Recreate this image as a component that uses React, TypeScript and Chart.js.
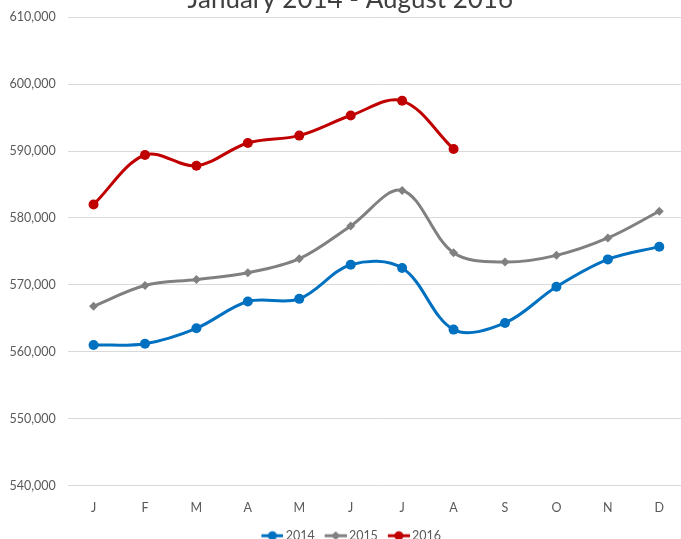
import React, { useEffect, useRef } from "react";
import { Chart, registerables } from "chart.js";

Chart.register(...registerables);

const TITLE = "January 2014 - August 2016";
const MONTHS = ["J", "F", "M", "A", "M", "J", "J", "A", "S", "O", "N", "D"];
const SERIES_NAMES = ["2014", "2015", "2016"];
const VALUES_2014 = [561000, 561200, 563500, 567500, 567900, 573000, 572500, 563300, 564300, 569700, 573800, 575700];
const VALUES_2015 = [566800, 569900, 570800, 571800, 573900, 578800, 584100, 574800, 573400, 574400, 577000, 581000];
const VALUES_2016 = [582000, 589400, 587800, 591200, 592300, 595300, 597500, 590300, null, null, null, null];
const Y_MIN = 540000;
const Y_MAX = 610000;
const Y_STEP = 10000;

const COLORS = ["#0070C0", "#808080", "#C00000"];
const FONT = "Lato, 'Open Sans', sans-serif";

function legendIcon(color: string, diamond: boolean): HTMLCanvasElement {
  const c = document.createElement("canvas");
  c.width = 26;
  c.height = 12;
  const ctx = c.getContext("2d")!;
  ctx.strokeStyle = color;
  ctx.lineWidth = 3;
  ctx.beginPath();
  ctx.moveTo(4, 6);
  ctx.lineTo(26, 6);
  ctx.stroke();
  ctx.fillStyle = color;
  ctx.beginPath();
  if (diamond) {
    ctx.moveTo(15, 1.5);
    ctx.lineTo(19.5, 6);
    ctx.lineTo(15, 10.5);
    ctx.lineTo(10.5, 6);
    ctx.closePath();
  } else {
    ctx.arc(15, 6, 4.5, 0, Math.PI * 2);
  }
  ctx.fill();
  return c;
}

const blockShift = {
  id: "blockShift",
  afterLayout(chart: any) {
    const l = chart.legend;
    if (l) {
      l.left += 10;
      l.right += 10;
    }
    const t = chart.titleBlock;
    if (t) {
      t.left += 9;
      t.right += 9;
    }
  },
};

export default function App() {
  const ref = useRef<HTMLCanvasElement | null>(null);

  useEffect(() => {
    if (!ref.current) return;
    const icons = [
      legendIcon(COLORS[0], false),
      legendIcon(COLORS[1], true),
      legendIcon(COLORS[2], false),
    ];
    const seriesData = [VALUES_2014, VALUES_2015, VALUES_2016];
    const chart = new Chart(ref.current, {
      type: "line",
      data: {
        labels: MONTHS,
        datasets: seriesData.map((d, i) => ({
          label: SERIES_NAMES[i],
          data: d,
          borderColor: COLORS[i],
          backgroundColor: COLORS[i],
          borderWidth: 3,
          pointStyle: i === 1 ? "rectRot" : "circle",
          pointRadius: i === 1 ? 4.5 : 5,
          pointBorderWidth: 0,
          pointBackgroundColor: COLORS[i],
          tension: 0.35,
          spanGaps: false,
          fill: false,
        })),
      },
      options: {
        animation: false,
        responsive: true,
        maintainAspectRatio: false,
        layout: { padding: { left: -2.5, right: 15, top: 0, bottom: 0 } },
        plugins: {
          title: {
            display: true,
            text: TITLE,
            color: "#404040",
            font: { family: FONT, size: 26, weight: "normal" },
            padding: { top: 14, bottom: 2 },
          },
          legend: {
            position: "bottom",
            labels: {
              usePointStyle: true,
              pointStyleWidth: 18,
              padding: 10,
              color: "#595959",
              font: { family: FONT, size: 12.5 },
              generateLabels: (ch: any) => {
                const base = Chart.defaults.plugins.legend.labels.generateLabels(ch);
                return base.map((l: any, i: number) => ({ ...l, pointStyle: icons[i] }));
              },
            },
          },
          tooltip: { enabled: false },
        },
        scales: {
          x: {
            offset: true,
            grid: { display: false, drawTicks: false },
            border: { display: false },
            ticks: {
              color: "#595959",
              font: { family: FONT, size: 12.5 },
              padding: 15,
              maxRotation: 0,
              autoSkip: false,
            },
            afterFit: (s: any) => {
              s.height -= 11;
            },
          },
          y: {
            min: Y_MIN,
            max: Y_MAX,
            grid: { color: "#D9D9D9", lineWidth: 1, drawTicks: false },
            border: { display: false },
            ticks: {
              stepSize: Y_STEP,
              color: "#595959",
              font: { family: FONT, size: 12.5 },
              padding: 12,
              callback: (v: any) => Number(v).toLocaleString("en-US"),
            },
          },
        },
      },
      plugins: [blockShift],
    });
    return () => chart.destroy();
  }, []);

  return (
    <div style={{ position: "absolute", left: 0, top: 0, width: 681, height: 539, overflow: "hidden", background: "#fff" }}>
      <div style={{ position: "absolute", left: 0, top: -30, width: 700, height: 582 }}>
        <canvas ref={ref} />
      </div>
    </div>
  );
}
